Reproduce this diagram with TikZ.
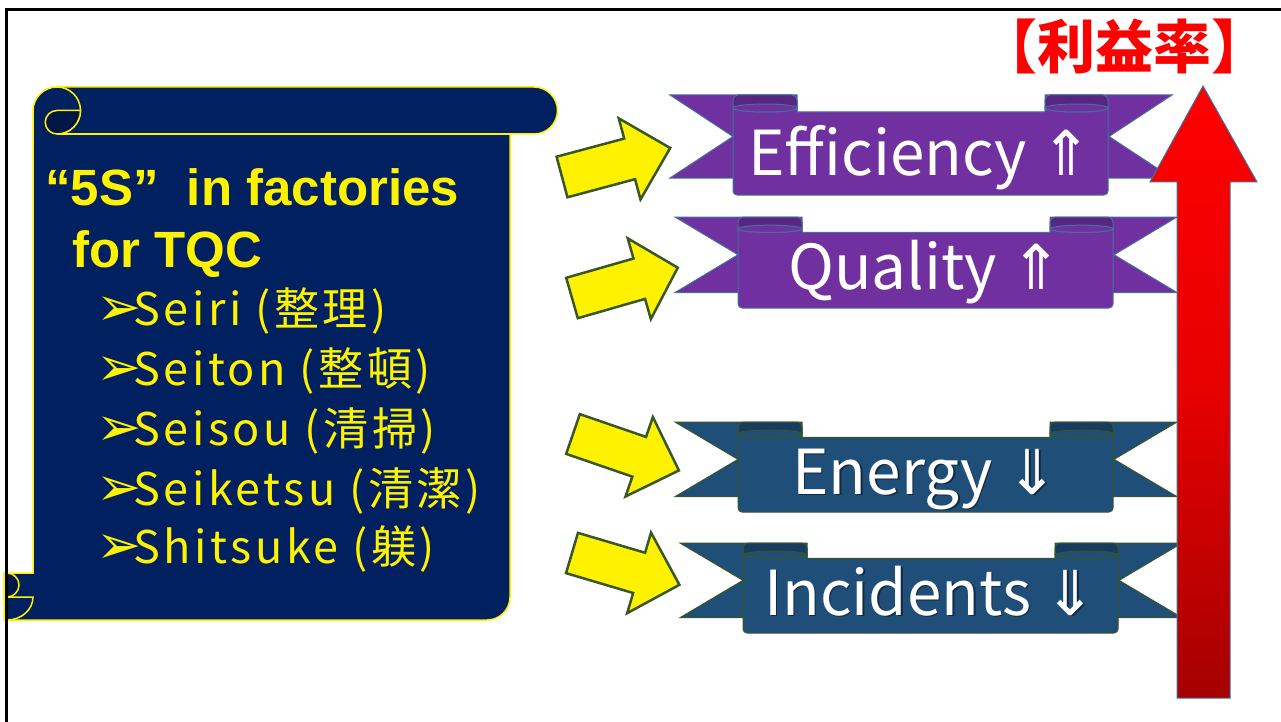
\documentclass[tikz,border=0pt]{standalone}
\usepackage{fontspec}
\setmainfont{Noto Sans CJK JP}
\newfontfamily\itemfont[LetterSpace=8]{Noto Sans CJK JP}
\newfontfamily\headfont{Liberation Sans}
\newfontfamily\dingfont{DejaVu Sans}

\definecolor{navy}{RGB}{0,32,96}
\definecolor{navydark}{RGB}{0,22,70}
\definecolor{olive}{RGB}{56,87,35}
\definecolor{darkred}{RGB}{165,0,0}
\definecolor{ribP}{RGB}{112,48,160}
\definecolor{ribPback}{RGB}{88,38,128}
\definecolor{ribPedge}{RGB}{65,113,156}
\definecolor{ribB}{RGB}{31,78,121}
\definecolor{ribBback}{RGB}{24,60,96}
\definecolor{ribBedge}{RGB}{56,87,35}

\newcommand{\bulletarrow}{\makebox[37pt][l]{\dingfont\fontsize{54}{54}\selectfont ➢}}

\tikzset{
  scrollline/.style={draw=yellow, line width=1.5pt},
  yarrow/.style={fill=yellow, draw=olive, line width=2.5pt},
  head/.style={anchor=base west, text=yellow, inner sep=0pt, font=\headfont\bfseries\fontsize{51}{60}\selectfont},
  item/.style={anchor=base west, text=yellow, inner sep=0pt, font=\itemfont\fontsize{45}{50}\selectfont},
  ribtext/.style={anchor=base, text=white, inner sep=0pt, font=\fontsize{62}{70}\selectfont},
  ribBshadow/.style={text=black, opacity=.45},
  ribPshadow/.style={opacity=0},
}

% #1,#2 top left, #3 height, #4 colour prefix, #5 text, #6 node name
\newcommand{\ribbon}[6]{%
  \begin{scope}[shift={(#1,-#2)}, draw=#4edge, line width=1pt]
    \filldraw[fill=#4] (0,0) -- (127,0) -- (127,-0.83*#3) -- (0,-0.83*#3) -- (63,-0.415*#3) -- cycle;
    \filldraw[fill=#4] (502,0) -- (375,0) -- (375,-0.83*#3) -- (502,-0.83*#3) -- (439,-0.415*#3) -- cycle;
    \filldraw[fill=#4back] (63,-0.13*#3) [rounded corners=5pt] -- (63,0) -- (127,0) [sharp corners] -- (127,-0.13*#3) -- cycle;
    \filldraw[fill=#4back] (438,-0.13*#3) [rounded corners=5pt] -- (438,0) -- (375,0) [sharp corners] -- (375,-0.13*#3) -- cycle;
    \filldraw[fill=#4] (63,-0.13*#3) [rounded corners=4pt] -- (63,-#3) -- (438,-#3) [sharp corners] -- (438,-0.13*#3)
      arc[start angle=0, end angle=-180, x radius=31.5, y radius=0.04*#3] -- (375,-0.17*#3) -- (127,-0.17*#3) -- (127,-0.13*#3)
      arc[start angle=0, end angle=-180, x radius=32, y radius=0.04*#3] -- cycle;
    \filldraw[fill=#4] (95,-0.13*#3) ellipse[x radius=32, y radius=0.04*#3];
    \filldraw[fill=#4] (406.5,-0.13*#3) ellipse[x radius=31.5, y radius=0.04*#3];
    \node[ribtext, #4shadow] at (252,-0.8*#3-1.5) {#5};
    \node[ribtext] (#6) at (250.5,-0.8*#3) {#5};
  \end{scope}}

\begin{document}
\begin{tikzpicture}[x=1pt, y=1pt]
\useasboundingbox[fill=white] (0,0) rectangle (1281,-722);

% scroll
\filldraw[fill=navy, scrollline] (33,-573) -- (33,-111) arc[start angle=180, end angle=90, radius=24] -- (534,-87)
  arc[start angle=90, end angle=-90, radius=23.5] -- (510,-134) -- (510,-597) arc[start angle=0, end angle=-90, radius=23]
  -- (4,-620) -- (4,-573) -- cycle;
\draw[scrollline] (57,-134) -- (510,-134);
\filldraw[fill=navy, scrollline] (57,-87) arc[start angle=90, end angle=-90, radius=23.5];
\filldraw[fill=navydark, scrollline] (80.5,-110.5) -- (57,-110.5) arc[start angle=90, end angle=270, radius=11.75]
  arc[start angle=-90, end angle=0, radius=23.5] -- cycle;
\filldraw[fill=navydark, scrollline] (4,-573) -- (7,-573) arc[start angle=90, end angle=-90, radius=12] -- (4,-597) -- cycle;
\draw[scrollline] (7,-597) -- (33,-597) arc[start angle=0, end angle=-90, x radius=26, y radius=23];

\node[head] (heading) at (45,-205) {“5S”\ \ in factories};
\node[head] (tqc) at (72,-267) {for TQC};
\node[item] (seiri) at (96,-325) {\bulletarrow Seiri (整理)};
\node[item] (seiton) at (96,-385) {\bulletarrow Seiton (整頓)};
\node[item] (seisou) at (96,-445) {\bulletarrow Seisou (清掃)};
\node[item] (seiketsu) at (96,-505) {\bulletarrow Seiketsu (清潔)};
\node[item] (shitsuke) at (96,-563) {\bulletarrow Shitsuke (躾)};

% yellow arrows
\draw[yarrow, shift={(562,-177)}, rotate=15] (0,21) -- (70,21) -- (70,42) -- (112,0) -- (70,-42) -- (70,-21) -- (0,-21) -- cycle;
\draw[yarrow, shift={(572,-298)}, rotate=16] (0,21) -- (70,21) -- (70,42) -- (110,0) -- (70,-42) -- (70,-21) -- (0,-21) -- cycle;
\draw[yarrow, shift={(573,-434)}, rotate=-19] (0,21) -- (70,21) -- (70,42) -- (112,0) -- (70,-42) -- (70,-21) -- (0,-21) -- cycle;
\draw[yarrow, shift={(572,-553)}, rotate=-16.5] (0,21) -- (70,21) -- (70,42) -- (112,0) -- (70,-42) -- (70,-21) -- (0,-21) -- cycle;

% ribbons
\ribbon{670}{95}{100}{ribP}{Efficiency {\dingfont ⇑}}{efficiency}
\ribbon{675}{217}{91}{ribP}{Quality {\dingfont ⇑}}{quality}
\ribbon{675}{422}{90}{ribB}{Energy {\dingfont ⇓}}{energy}
\ribbon{680}{543}{90}{ribB}{Incidents {\dingfont ⇓}}{incidents}

% profit arrow
\draw[draw={rgb,255:red,65;green,113;blue,156}, line width=1pt, top color=red, bottom color=darkred, middle color={rgb,255:red,230;green,0;blue,0}]
  (1177,-698) -- (1177,-182) -- (1150,-182) -- (1203,-86) -- (1257,-182) -- (1230,-182) -- (1230,-698) -- cycle;
\node[text=red, font=\bfseries\fontsize{58}{60}\selectfont] (profit) at (1124,-46) {【利益率】};

\draw[line width=3pt] (6.5,-722) -- (6.5,-9.5) -- (1281,-9.5);
\end{tikzpicture}
\end{document}
